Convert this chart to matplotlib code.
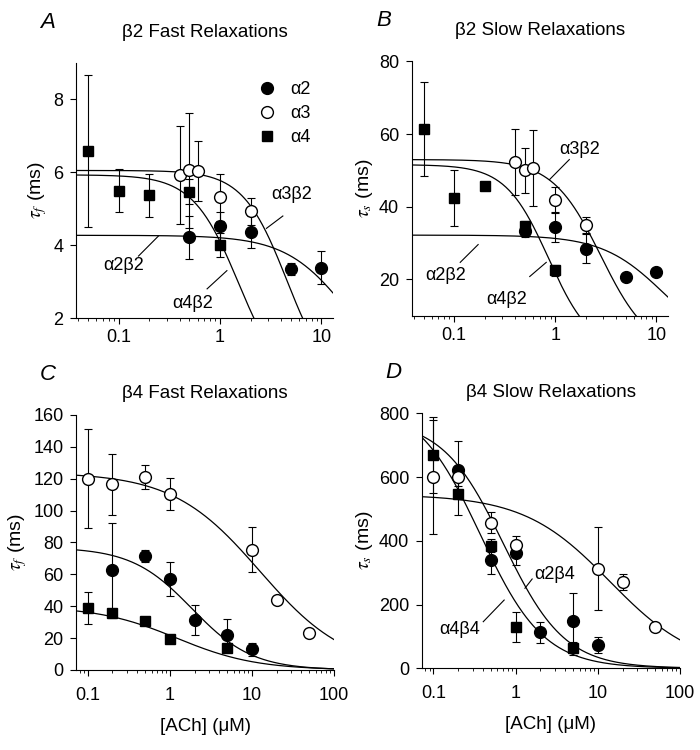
import numpy as np
import matplotlib
matplotlib.use("Agg")
import matplotlib.pyplot as plt
from matplotlib.ticker import FixedLocator, LogLocator, NullFormatter

plt.rcParams['font.family'] = ['Liberation Sans', 'DejaVu Sans']
plt.rcParams['mathtext.fontset'] = 'stix'
plt.rcParams['font.size'] = 12

# ---- data: [ACh] (uM), tau (ms), error ----
# A: beta2 fast
a_a2_x = [0.5, 1, 2, 5, 10]
a_a2_y = [4.21, 4.52, 4.36, 3.35, 3.38]
a_a2_e = [0.60, 0.40, 0.43, 0.17, 0.45]
a_a3_x = [0.4, 0.5, 0.6, 1, 2]
a_a3_y = [5.93, 6.06, 6.03, 5.31, 4.93]
a_a3_e = [1.34, 1.58, 0.83, 0.64, 0.37]
a_a4_x = [0.05, 0.1, 0.2, 0.5, 1]
a_a4_y = [6.58, 5.50, 5.37, 5.47, 4.01]
a_a4_e = [2.08, 0.60, 0.59, 0.35, 0.33]

# B: beta2 slow
b_a2_x = [0.5, 1, 2, 5, 10]
b_a2_y = [33.3, 34.4, 28.5, 20.8, 22.0]
b_a2_e = [1.5, 4.0, 3.9, 0, 0]
b_a3_x = [0.4, 0.5, 0.6, 1, 2]
b_a3_y = [52.3, 50.0, 50.7, 42.0, 35.0]
b_a3_e = [9.0, 6.2, 10.5, 3.5, 2.2]
b_a4_x = [0.05, 0.1, 0.2, 0.5, 1]
b_a4_y = [61.4, 42.4, 45.6, 34.8, 22.5]
b_a4_e = [13.0, 7.8, 0, 1.2, 1.5]

# C: beta4 fast
c_a2_x = [0.2, 0.5, 1, 2, 5, 10]
c_a2_y = [62.5, 71.5, 57.0, 31.5, 22.0, 13.0]
c_a2_e = [30.0, 4.0, 10.5, 9.5, 10.0, 4.0]
c_a3_x = [0.1, 0.2, 0.5, 1, 10, 20, 50]
c_a3_y = [120.0, 116.5, 121.0, 110.5, 75.5, 44.0, 23.5]
c_a3_e = [31.0, 19.0, 7.5, 10.0, 14.0, 2.0, 0]
c_a4_x = [0.1, 0.2, 0.5, 1, 5]
c_a4_y = [39.0, 35.5, 30.5, 19.5, 13.5]
c_a4_e = [10.0, 1.5, 0, 2.0, 0]

# D: beta4 slow
d_a2_x = [0.2, 0.5, 1, 2, 5, 10]
d_a2_y = [622, 340, 362, 113, 148, 73]
d_a2_e = [90, 44, 37, 33, 89, 26]
d_a3_x = [0.1, 0.2, 0.5, 1, 10, 20, 50]
d_a3_y = [600, 601, 457, 386, 312, 270, 130]
d_a3_e = [178, 30, 34, 30, 130, 25, 0]
d_a4_x = [0.1, 0.2, 0.5, 1, 5]
d_a4_y = [669, 547, 385, 128, 63]
d_a4_e = [120, 66, 20, 47, 20]

# fitted curves: (tau max, EC50, Hill n)
a_fits = [(4.27, 19.0, 1.4), (6.05, 4.58, 2.0), (5.93, 1.52, 1.93)]
b_fits = [(32.2, 12.0, 1.42), (53.0, 2.83, 1.82), (51.6, 0.86, 2.05)]
c_fits = [(77.0, 1.86, 1.18), (124.0, 12.5, 0.82), (40.0, 1.21, 0.9)]
d_fits = [(780.0, 0.713, 1.165), (545.0, 14.0, 0.83), (840.0, 0.371, 1.123)]


def hill(x, top, k, n):
    return top / (1 + (x / k) ** n)


def draw_panel(ax, series, fits, xlim, ylim, yticks, xticks, xpad):
    xx = np.logspace(np.log10(xlim[0]), np.log10(xlim[1]), 300)
    for top, k, n in fits:
        ax.plot(xx, hill(xx, top, k, n), color='black', lw=0.9, zorder=2)
    styles = [dict(marker='o', ms=8.5, mfc='black', mec='black'),
              dict(marker='o', ms=8.5, mfc='white', mec='black', mew=1.0),
              dict(marker='s', ms=7.5, mfc='black', mec='black')]
    for (x, y, e), st, lab in zip(series, styles, ['α2', 'α3', 'α4']):
        ax.errorbar(x, y, yerr=e, fmt='none', ecolor='black', elinewidth=0.8,
                    capsize=3, capthick=0.8, zorder=3)
        ax.plot(x, y, ls='none', zorder=4, label=lab, **st)
    ax.set_xscale('log')
    ax.set_xlim(*xlim)
    ax.set_ylim(*ylim)
    ax.set_yticks(yticks)
    ax.xaxis.set_major_locator(FixedLocator(xticks))
    ax.set_xticklabels([f"{t:g}" for t in xticks])
    ax.xaxis.set_minor_locator(LogLocator(base=10, subs=np.arange(2, 10)))
    ax.xaxis.set_minor_formatter(NullFormatter())
    ax.spines['top'].set_visible(False)
    ax.spines['right'].set_visible(False)
    ax.tick_params(which='major', direction='out', length=4, width=0.8, labelsize=13)
    ax.tick_params(which='minor', direction='out', length=2, width=0.6)
    ax.tick_params(axis='y', which='major', pad=5)
    ax.tick_params(axis='x', which='major', pad=xpad)


fig = plt.figure(figsize=(7, 7.5), dpi=100)
axA = fig.add_axes([0.1086, 0.576, 0.367, 0.34])
axB = fig.add_axes([0.588, 0.579, 0.366, 0.339])
axC = fig.add_axes([0.1086, 0.1067, 0.3686, 0.34])
axD = fig.add_axes([0.6024, 0.109, 0.369, 0.34])

draw_panel(axA, [(a_a2_x, a_a2_y, a_a2_e), (a_a3_x, a_a3_y, a_a3_e), (a_a4_x, a_a4_y, a_a4_e)],
           a_fits, (0.038, 13), (2, 9), [2, 4, 6, 8], [0.1, 1, 10], 4)
draw_panel(axB, [(b_a2_x, b_a2_y, b_a2_e), (b_a3_x, b_a3_y, b_a3_e), (b_a4_x, b_a4_y, b_a4_e)],
           b_fits, (0.038, 13), (10, 80), [20, 40, 60, 80], [0.1, 1, 10], 4)
draw_panel(axC, [(c_a2_x, c_a2_y, c_a2_e), (c_a3_x, c_a3_y, c_a3_e), (c_a4_x, c_a4_y, c_a4_e)],
           c_fits, (0.072, 100), (0, 160), list(range(0, 161, 20)), [0.1, 1, 10, 100], 8)
draw_panel(axD, [(d_a2_x, d_a2_y, d_a2_e), (d_a3_x, d_a3_y, d_a3_e), (d_a4_x, d_a4_y, d_a4_e)],
           d_fits, (0.072, 100), (0, 800), [0, 200, 400, 600, 800], [0.1, 1, 10, 100], 8)

# legend in A
axA.legend(loc='upper left', bbox_to_anchor=(0.672, 0.965), frameon=False,
           handlelength=1.0, handletextpad=0.8, labelspacing=0.4, borderpad=0,
           fontsize=13)

# titles, panel letters and axis labels
for ax, title, letter, ylab, tpad in [(axA, 'β2 Fast Relaxations', 'A', r'$\tau_f$ (ms)', 19),
                                      (axB, 'β2 Slow Relaxations', 'B', r'$\tau_s$ (ms)', 19),
                                      (axC, 'β4 Fast Relaxations', 'C', r'$\tau_f$ (ms)', 12),
                                      (axD, 'β4 Slow Relaxations', 'D', r'$\tau_s$ (ms)', 12)]:
    ax.set_title(title, fontsize=13.5, pad=tpad)
    ax.set_ylabel(ylab, fontsize=14, labelpad=3)
    ax.text(-0.11, 1.16, letter, transform=ax.transAxes, fontsize=16,
            style='italic', ha='center', va='center')
for ax in (axC, axD):
    ax.set_xlabel('[ACh] (μM)', fontsize=13.5, labelpad=10)

# curve labels with leader lines
def tag(ax, text, txy, p0, p1):
    ax.plot([p0[0], p1[0]], [p0[1], p1[1]], color='black', lw=0.8, zorder=2)
    ax.text(txy[0], txy[1], text, fontsize=13, ha='center', va='center')

tag(axA, 'α3β2', (5.05, 5.40), (2.87, 4.46), (4.17, 4.80))
tag(axA, 'α2β2', (0.112, 3.43), (0.157, 3.70), (0.247, 4.25))
tag(axA, 'α4β2', (0.54, 2.39), (0.746, 2.80), (1.17, 3.30))
tag(axB, 'α3β2', (1.73, 55.7), (0.88, 47.5), (1.38, 53.0))
tag(axB, 'α2β2', (0.082, 21.1), (0.115, 24.7), (0.173, 29.6))
tag(axB, 'α4β2', (0.33, 14.5), (0.56, 20.8), (0.816, 24.7))
tag(axD, 'α2β4', (3.0, 293), (1.30, 251), (1.59, 280))
tag(axD, 'α4β4', (0.21, 120), (0.404, 146), (0.726, 214))

fig.savefig('out.png', dpi=100)
